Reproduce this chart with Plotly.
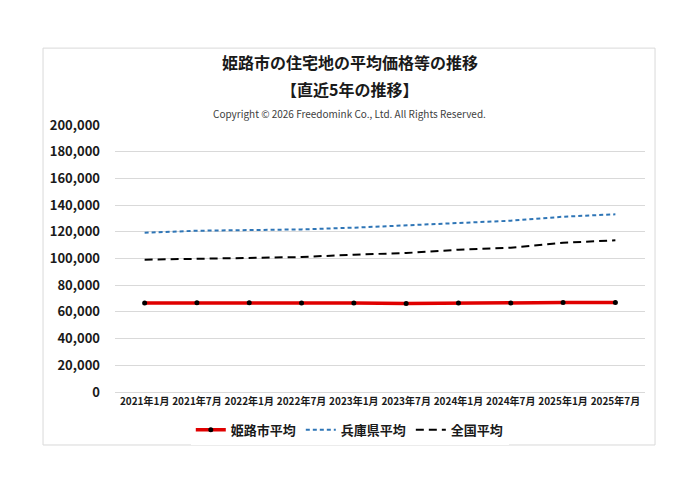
import plotly.graph_objects as go

months = ["2021年1月", "2021年7月", "2022年1月", "2022年7月", "2023年1月",
          "2023年7月", "2024年1月", "2024年7月", "2025年1月", "2025年7月"]
himeji = [66700, 66800, 66800, 66700, 66700, 66300, 66700, 66700, 67000, 67100]
hyogo = [119300, 120800, 121300, 121800, 123100, 124600, 126600, 128300, 131300, 133100]
national = [99100, 99600, 100400, 101100, 102900, 104100, 106600, 108100, 111800, 113600]

jp_font = "Noto Sans CJK JP"

fig = go.Figure()
fig.add_trace(go.Scatter(x=months, y=himeji, name="姫路市平均", mode="lines+markers",
                         line=dict(color="#e00000", width=3.5),
                         marker=dict(color="black", size=5)))
fig.add_trace(go.Scatter(x=months, y=hyogo, name="兵庫県平均", mode="lines",
                         line=dict(color="#2e75b6", width=2, dash="4px,3px")))
fig.add_trace(go.Scatter(x=months, y=national, name="全国平均", mode="lines",
                         line=dict(color="black", width=2, dash="8px,5px")))

# page body has an 8px margin, so the figure is a bit smaller than the window
fig.update_layout(
    width=684, height=479,
    paper_bgcolor="white", plot_bgcolor="white",
    margin=dict(l=107, r=47, t=117, b=95),
    font=dict(family=jp_font, color="#1a1a1a"),
    showlegend=True,
    legend=dict(orientation="h", x=0.443, xanchor="center", y=-0.142, yanchor="middle",
                font=dict(size=13, family=jp_font, weight="bold"),
                tracegroupgap=0),
    xaxis=dict(type="category", showgrid=False, showline=True, linecolor="#d9d9d9",
               ticks="", tickfont=dict(size=10, family=jp_font, color="#1a1a1a",
                                       weight="bold"),
               tickangle=0),
    yaxis=dict(range=[0, 200000], dtick=20000, tickformat=",", showgrid=True,
               gridcolor="#d9d9d9", zeroline=False, showline=False, ticks="",
               tickfont=dict(size=13, family=jp_font, color="#1a1a1a", weight="bold"),
               ticklabelstandoff=14),
    shapes=[dict(type="rect", xref="paper", yref="paper",
                 x0=-0.1358, x1=1.0189, y0=-0.1985, y1=1.288,
                 line=dict(color="#d9d9d9", width=1), fillcolor="rgba(0,0,0,0)")],
    annotations=[
        dict(text="<b>姫路市の住宅地の平均価格等の推移</b>", xref="paper", yref="paper",
             x=0.443, y=1.235, xanchor="center", yanchor="middle", showarrow=False,
             font=dict(size=16, family=jp_font, color="#1a1a1a")),
        dict(text="<b>【直近5年の推移】</b>", xref="paper", yref="paper",
             x=0.443, y=1.133, xanchor="center", yanchor="middle", showarrow=False,
             font=dict(size=16, family=jp_font, color="#1a1a1a")),
        dict(text="Copyright © 2026 Freedomink Co., Ltd. All Rights Reserved.",
             xref="paper", yref="paper", x=0.443, y=1.043, xanchor="center",
             yanchor="middle", showarrow=False,
             font=dict(size=10, family=jp_font, color="#404040")),
    ],
)

fig.write_html("out.html")
